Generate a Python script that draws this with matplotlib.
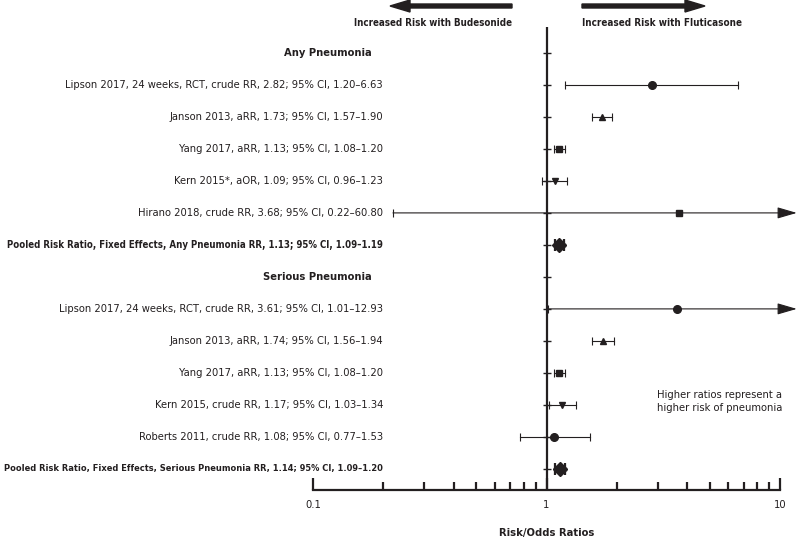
import matplotlib.pyplot as plt
import numpy as np
from matplotlib import font_manager
from matplotlib.patches import FancyArrow
from matplotlib.transforms import blended_transform_factory

# Fuente estrecha si existe
nombres = {f.name for f in font_manager.fontManager.ttflist}
estiramiento = 'normal'
if 'Liberation Sans Narrow' in nombres:
    familia = ['Liberation Sans Narrow', 'DejaVu Sans']
elif any(f.name == 'DejaVu Sans' and f.stretch == 'condensed'
         for f in font_manager.fontManager.ttflist):
    familia = ['DejaVu Sans']
    estiramiento = 'condensed'
else:
    familia = ['Liberation Sans', 'DejaVu Sans']
plt.rcParams['font.family'] = familia
plt.rcParams['font.stretch'] = estiramiento

# Filas del forest plot (de arriba abajo)
etiquetas = [
    "Any Pneumonia",
    "Lipson 2017, 24 weeks, RCT, crude RR, 2.82; 95% CI, 1.20\u20136.63",
    "Janson 2013, aRR, 1.73; 95% CI, 1.57\u20131.90",
    "Yang 2017, aRR, 1.13; 95% CI, 1.08\u20131.20",
    "Kern 2015*, aOR, 1.09; 95% CI, 0.96\u20131.23",
    "Hirano 2018, crude RR, 3.68; 95% CI, 0.22\u201360.80",
    "Pooled Risk Ratio, Fixed Effects, Any Pneumonia RR, 1.13; 95% CI, 1.09\u20131.19",
    "Serious Pneumonia",
    "Lipson 2017, 24 weeks, RCT, crude RR, 3.61; 95% CI, 1.01\u201312.93",
    "Janson 2013, aRR, 1.74; 95% CI, 1.56\u20131.94",
    "Yang 2017, aRR, 1.13; 95% CI, 1.08\u20131.20",
    "Kern 2015, crude RR, 1.17; 95% CI, 1.03\u20131.34",
    "Roberts 2011, crude RR, 1.08; 95% CI, 0.77\u20131.53",
    "Pooled Risk Ratio, Fixed Effects, Serious Pneumonia RR, 1.14; 95% CI, 1.09\u20131.20",
]
negrita = [True, False, False, False, False, False, True,
           True, False, False, False, False, False, True]
encabezado = [0, 7]
combinado = [6, 13]

# Estimaciones (None = fila de título)
estim = [None, 2.82, 1.73, 1.13, 1.09, 3.68, 1.13,
         None, 3.61, 1.74, 1.13, 1.17, 1.08, 1.14]
ic_inf = [None, 1.20, 1.57, 1.08, 0.96, 0.22, 1.09,
          None, 1.01, 1.56, 1.08, 1.03, 0.77, 1.09]
ic_sup = [None, 6.63, 1.90, 1.20, 1.23, 60.80, 1.19,
          None, 12.93, 1.94, 1.20, 1.34, 1.53, 1.20]
marcadores = [None, 'o', '^', 's', 'v', 's', 'D',
              None, 'o', '^', 's', 'v', 'o', 'D']

color = '#231f20'
fs = 9.3
fig = plt.figure(figsize=(7.99, 5.40), dpi=100)
ax = fig.add_axes([313/799, 1-490/540, (780-313)/799, (490-27)/540])
ax.set_xscale('log')
ax.set_xlim(0.1, 10)
ax.set_ylim(13.66, -0.81)
tr = blended_transform_factory(fig.transFigure, ax.transData)

filas = np.arange(len(etiquetas))
x_flecha = 11.8

# Línea vertical en 1 con marcas en cada fila
ax.axvline(1, color=color, lw=1.6, zorder=3)
ax.plot([1]*len(filas), filas, ls='none', marker='_', ms=6, mew=1.0,
        color=color, zorder=3)

for i in filas:
    if estim[i] is None:
        continue
    lo, hi, est = ic_inf[i], ic_sup[i], estim[i]
    if hi > 10:
        ax.annotate('', xy=(x_flecha, i), xytext=(lo, i),
                    arrowprops=dict(arrowstyle='-|>,head_length=1.2,head_width=0.35',
                                    color=color, lw=0.8, shrinkA=0, shrinkB=0),
                    annotation_clip=False)
        ax.plot([lo], [i], marker='|', ms=6, mew=0.8, color=color)
    else:
        ax.plot([lo, hi], [i, i], color=color, lw=0.8)
        ax.plot([lo, hi], [i, i], ls='none', marker='|', ms=6, mew=0.8, color=color)
    m = marcadores[i]
    tam = {'o': 5.5, '^': 4.5, 'v': 4.5, 's': 4, 'D': 7}[m]
    if m == 'D':
        ax.plot([lo, hi], [i, i], color=color, lw=2.5)
        ax.plot([lo, hi], [i, i], ls='none', marker='|', ms=9, mew=1.6, color=color)
    ax.plot([est], [i], marker=m, ms=tam, color=color, zorder=4)

# Etiquetas de cada fila
textos = []
for i in filas:
    x_txt = 372 if i in encabezado else 383
    textos.append(ax.text(x_txt/799, i, etiquetas[i], transform=tr,
                          ha='right', va='center', fontsize=fs, color=color,
                          fontweight='bold' if negrita[i] else 'normal'))

# Eje x
for s in ['top', 'right', 'left']:
    ax.spines[s].set_visible(False)
ax.spines['bottom'].set_linewidth(1.6)
ax.spines['bottom'].set_color(color)
ax.set_yticks([])
ax.set_xticks([0.1, 1, 10])
ax.set_xticklabels(['0.1', '1', '10'])
ax.tick_params(axis='x', which='major', direction='in', length=9, width=1.6,
               colors=color, labelsize=fs, pad=7)
ax.tick_params(axis='x', which='minor', direction='in', length=6, width=1.6,
               colors=color)
ax.set_xlabel('Risk/Odds Ratios', fontsize=fs, fontweight='bold', color=color,
              labelpad=13)

nota = ax.text(657/799, 10.9, "Higher ratios represent a\nhigher risk of pneumonia",
               transform=tr, ha='left', va='center', fontsize=fs, color=color,
               linespacing=1.3)

# Flechas superiores
for x0, dx in [(512, 390 - 512), (582, 705 - 582)]:
    fig.patches.append(FancyArrow(
        x0/799, 1-6/540, dx/799, 0, width=4/540, head_width=12/540,
        head_length=20/799, length_includes_head=True, color=color,
        transform=fig.transFigure, figure=fig))
t1 = fig.text(512/799, 1-23/540, "Increased Risk with Budesonide", ha='right',
              va='center', fontsize=fs, fontweight='bold', color=color)
t2 = fig.text(582/799, 1-23/540, "Increased Risk with Fluticasone", ha='left',
              va='center', fontsize=fs, fontweight='bold', color=color)

# Ajustar el tamaño de letra al ancho de la referencia
fig.canvas.draw()
esc_n = min(1.0, 320 / textos[1].get_window_extent().width)
for t in textos + [nota, t1, t2, ax.xaxis.label]:
    t.set_fontsize(fs * esc_n)
ax.tick_params(axis='x', labelsize=fs * esc_n)
fig.canvas.draw()


def ajustar(t, ancho_max):
    w = t.get_window_extent().width
    if w > ancho_max:
        t.set_fontsize(t.get_fontsize() * ancho_max / w)


for i in combinado:
    ajustar(textos[i], 376)
ajustar(t1, 158)
ajustar(t2, 158)

fig.savefig('out.png', dpi=100)
